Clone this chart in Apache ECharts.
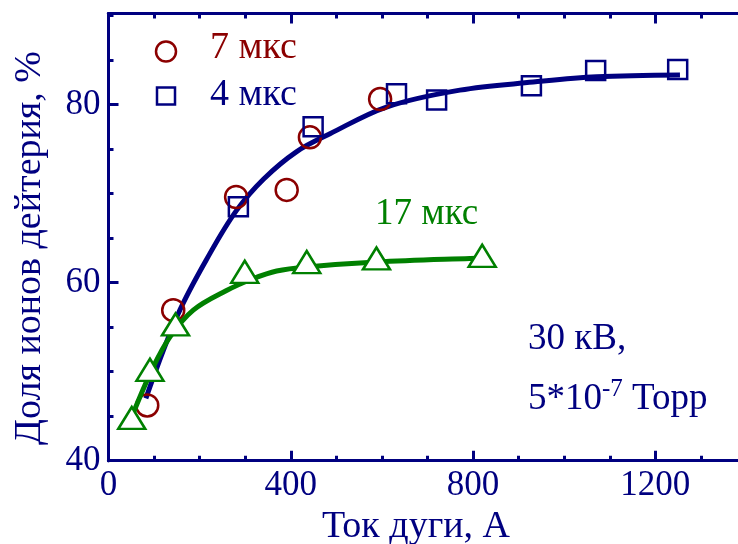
<!DOCTYPE html>
<html>
<head>
<meta charset="utf-8">
<script src="https://cdn.jsdelivr.net/npm/echarts@6/dist/echarts.min.js"></script>
<style>
  html, body { margin: 0; padding: 0; background: #fff; }
  #chart { width: 738px; height: 544px; }
</style>
</head>
<body>
<div id="chart"></div>
<script>
// цвета и шрифт
const NAVY = '#000080';
const RED = '#8b0000';
const GREEN = '#008000';
const FONT = '"Liberation Serif", "Times New Roman", serif';

// 7 мкс (кружки)
const x7 = [85, 142, 280, 391, 442, 596];
const y7 = [46.2, 56.9, 69.6, 70.4, 76.3, 80.6];
// 4 мкс (квадраты)
const x4 = [285, 449, 632, 720, 928, 1069, 1249];
const y4 = [68.5, 77.5, 81.2, 80.5, 82.1, 83.8, 83.9];
// 17 мкс (треугольники)
const x17 = [51, 91, 147, 299, 435, 588, 820];
const y17 = [44.8, 50.2, 55.3, 61.2, 62.3, 62.7, 63.0];

// аппроксимирующие кривые, точки
const fitBlueX = [82, 153, 223, 281, 340, 413, 486, 610, 771, 932, 1071, 1254];
const fitBlueY = [47.0, 56.5, 63.3, 68.1, 71.6, 74.7, 76.7, 79.7, 81.6, 82.5, 83.1, 83.3];
const fitGreenX = [54, 98, 135, 186, 259, 318, 369, 435, 588, 793, 835];
const fitGreenY = [45.3, 50.5, 53.9, 56.9, 59.1, 60.45, 61.3, 61.75, 62.3, 62.7, 62.75];

// оси
const xMin = 0, xMax = 1400, xStep = 400, xMinor = 100;
const yMin = 40, yMax = 90.2, yStep = 20, yMinor = 5;

function zip(xs, ys) {
    return xs.map((x, i) => [x, ys[i]]);
}

var myChart = echarts.init(document.getElementById('chart'));

function xAxisOf(position, interval, tickLen, withLabels) {
    return {
        type: 'value',
        position: position,
        min: xMin,
        max: xMax,
        interval: interval,
        axisLine: { show: true, lineStyle: { color: NAVY, width: 3 } },
        axisTick: { show: true, inside: true, length: tickLen, lineStyle: { color: NAVY, width: 3 } },
        axisLabel: {
            show: withLabels,
            margin: 8,
            color: NAVY,
            fontSize: 35,
            fontFamily: FONT,
            formatter: v => (v % xStep === 0 && v < xMax) ? String(v) : ''
        },
        splitLine: { show: false }
    };
}

function yAxisOf(interval, tickLen, withLabels) {
    return {
        type: 'value',
        position: 'left',
        min: yMin,
        max: yMax,
        interval: interval,
        axisLine: { show: true, lineStyle: { color: NAVY, width: 3 } },
        axisTick: { show: true, inside: true, length: tickLen, lineStyle: { color: NAVY, width: 3 } },
        axisLabel: {
            show: withLabels,
            margin: 8,
            color: NAVY,
            fontSize: 35,
            fontFamily: FONT,
            formatter: v => (v % yStep === 0) ? String(v) : ''
        },
        splitLine: { show: false }
    };
}

var option = {
    animation: false,
    backgroundColor: '#fff',
    grid: {
        left: 108.5,
        top: 13.5,
        width: 638,
        height: 447.2,
        containLabel: false,
        outerBoundsMode: 'none'
    },
    xAxis: [
        xAxisOf('bottom', xStep, 10, true),
        xAxisOf('bottom', xMinor, 5, false),
        xAxisOf('top', xStep, 10, false),
        xAxisOf('top', xMinor, 5, false)
    ],
    yAxis: [
        yAxisOf(yStep, 10, true),
        yAxisOf(yMinor, 5, false)
    ],
    series: [
        {
            name: 'fit 4',
            type: 'line',
            data: zip(fitBlueX, fitBlueY),
            smooth: 0.35,
            showSymbol: false,
            symbol: 'none',
            lineStyle: { color: NAVY, width: 5 },
            z: 2
        },
        {
            name: '7 мкс',
            type: 'scatter',
            data: zip(x7, y7),
            symbol: 'circle',
            symbolSize: 22,
            itemStyle: { color: 'rgba(0,0,0,0)', borderColor: RED, borderWidth: 2.5, opacity: 1 },
            z: 3
        },
        {
            name: '4 мкс',
            type: 'scatter',
            data: zip(x4, y4),
            symbol: 'rect',
            symbolSize: 19,
            itemStyle: { color: 'rgba(0,0,0,0)', borderColor: NAVY, borderWidth: 2.5, opacity: 1 },
            z: 3
        },
        {
            name: 'fit 17',
            type: 'line',
            data: zip(fitGreenX, fitGreenY),
            smooth: 0.35,
            showSymbol: false,
            symbol: 'none',
            lineStyle: { color: GREEN, width: 5 },
            z: 4
        },
        {
            name: '17 мкс',
            type: 'scatter',
            data: zip(x17, y17),
            symbol: 'triangle',
            symbolSize: [27, 22],
            itemStyle: { color: '#fff', borderColor: GREEN, borderWidth: 2.5, opacity: 1 },
            z: 5
        }
    ],
    graphic: [
        // легенда
        { type: 'circle', shape: { cx: 166, cy: 51.5, r: 10 }, style: { fill: 'none', stroke: RED, lineWidth: 2.5 } },
        { type: 'text', x: 210, y: 48, style: { text: '7 мкс', fill: RED, font: '38px ' + FONT, textVerticalAlign: 'middle' } },
        { type: 'rect', shape: { x: 157, y: 87.5, width: 18, height: 17 }, style: { fill: 'none', stroke: NAVY, lineWidth: 2.5 } },
        { type: 'text', x: 210, y: 95, style: { text: '4 мкс', fill: NAVY, font: '38px ' + FONT, textVerticalAlign: 'middle' } },
        // подписи
        { type: 'text', x: 375, y: 214, style: { text: '17 мкс', fill: GREEN, font: '37px ' + FONT, textVerticalAlign: 'middle' } },
        { type: 'text', x: 528, y: 339, style: { text: '30 кВ,', fill: NAVY, font: '37px ' + FONT, textVerticalAlign: 'middle' } },
        {
            type: 'text', x: 528, y: 399,
            style: {
                text: '{a|5*10}{s|-7}{a| Торр}',
                fill: NAVY,
                textVerticalAlign: 'middle',
                rich: {
                    a: { fontSize: 37, fontFamily: FONT, fill: NAVY },
                    s: { fontSize: 25, fontFamily: FONT, fill: NAVY, padding: [0, 0, 20, 0] }
                }
            }
        },
        // названия осей
        { type: 'text', x: 416, y: 527, style: { text: 'Ток дуги, А', fill: NAVY, font: '38px ' + FONT, textAlign: 'center', textVerticalAlign: 'middle' } },
        {
            type: 'text', x: 30, y: 248, rotation: Math.PI / 2,
            style: { text: 'Доля ионов дейтерия, %', fill: NAVY, font: '38px ' + FONT, textAlign: 'center', textVerticalAlign: 'middle' }
        }
    ]
};

myChart.setOption(option);
</script>
</body>
</html>
